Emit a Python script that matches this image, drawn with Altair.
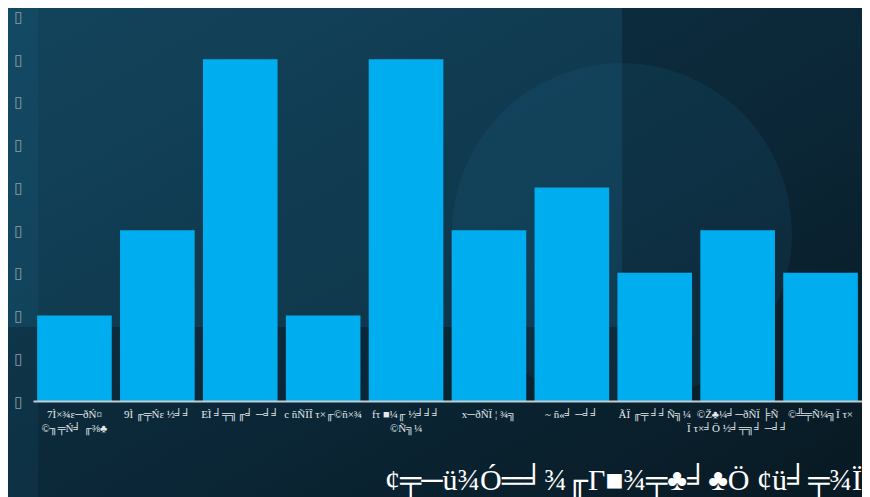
import altair as alt
import pandas as pd

categories = [
    "7Ì×¾ε─ðŃ¤\n©╖╤Ń╛ ╓⅜♣",
    "9Ì ╓╤Ńε ½╛╛",
    "EÌ ╛╤╗╓╛ ─╛╛",
    "c ñÑÏÎ τ×╓©ñ×¾",
    "fτ ■¼╓ ½╛╛╛\n©Ñ╗¼",
    "x─ðÑÏ ¦ ¾╗",
    "~ ñ«╛ ─╛╛",
    "ÃÏ ╓╤ ╛╛Ñ╗¼",
    "©Ž♣¼╛─ðÑÏ ╞Ñ\nÏ τ×╛Ö ½╛╤╗╛ ─╛╛",
    "©╩╤Ñ¼╗Ï τ×",
]
values = [2, 4, 8, 2, 8, 4, 5, 3, 4, 3]
y_ticks = [0, 1, 2, 3, 4, 5, 6, 7, 8, 9]
title_text = ["¢╤─ü¾Ó═╛¾╓Γ■¾╤♣╛♣Ö ¢ü╛╤¾Ï"]

W, H = 829, 393

df = pd.DataFrame({"cat": categories, "val": values})
one = pd.DataFrame({"k": [0]})
tdf = pd.DataFrame({"t": title_text})

bg = alt.Chart(one).mark_rect(
    color=alt.LinearGradient(
        gradient="linear",
        stops=[alt.GradientStop(color="#0f3649", offset=0),
               alt.GradientStop(color="#0b2737", offset=0.55),
               alt.GradientStop(color="#081922", offset=1)],
        x1=0, y1=0, x2=1, y2=1),
).encode(x=alt.value(-30), x2=alt.value(845), y=alt.value(-5), y2=alt.value(495))

rect_a = alt.Chart(one).mark_rect(color="#2a9fd0", opacity=0.14).encode(
    x=alt.value(-30), x2=alt.value(589), y=alt.value(-5), y2=alt.value(319))

strip = alt.Chart(one).mark_rect(color="#2a9fd0", opacity=0.08).encode(
    x=alt.value(-30), x2=alt.value(5), y=alt.value(-5), y2=alt.value(495))

circle = alt.Chart(one).mark_circle(color="#2a9fd0", opacity=0.09, size=115600).encode(
    x=alt.value(589), y=alt.value(225))

bars = alt.Chart(df).mark_bar(color="#00AEEF").encode(
    x=alt.X("cat:N", sort=None,
            scale=alt.Scale(paddingInner=0.1, paddingOuter=0.05),
            axis=alt.Axis(title=None, labelAngle=0, ticks=False, zindex=1,
                          labelExpr="split(datum.label, '\\n')",
                          labelColor="#e3eaee", labelFontSize=11,
                          labelFont="Liberation Serif", labelLineHeight=14,
                          labelPadding=7, labelLimit=200,
                          domainColor="#c3ccd1", domainWidth=2)),
    y=alt.Y("val:Q", scale=alt.Scale(domain=[0, 9.2], nice=False),
            axis=alt.Axis(title=None, values=y_ticks, grid=False, domain=False,
                          ticks=False, labelExpr="'▯'", zindex=1,
                          labelColor="#8aa1ac", labelFontSize=15,
                          labelFont="DejaVu Sans", labelPadding=11)),
)

title = alt.Chart(tdf).mark_text(
    align="right", baseline="alphabetic", fontSize=30, color="#ffffff",
    font="Liberation Serif",
).encode(text="t:N", x=alt.value(829), y=alt.value(482))

chart = alt.layer(bg, rect_a, strip, circle, bars, title).properties(
    width=W, height=H,
    autosize=alt.AutoSizeParams(type="none"),
    padding={"left": 25, "top": 0, "right": 0, "bottom": 96},
    background="#0b2737",
).configure_view(stroke=None)

chart.save("out.html", embed_options={"renderer": "svg", "actions": False})
